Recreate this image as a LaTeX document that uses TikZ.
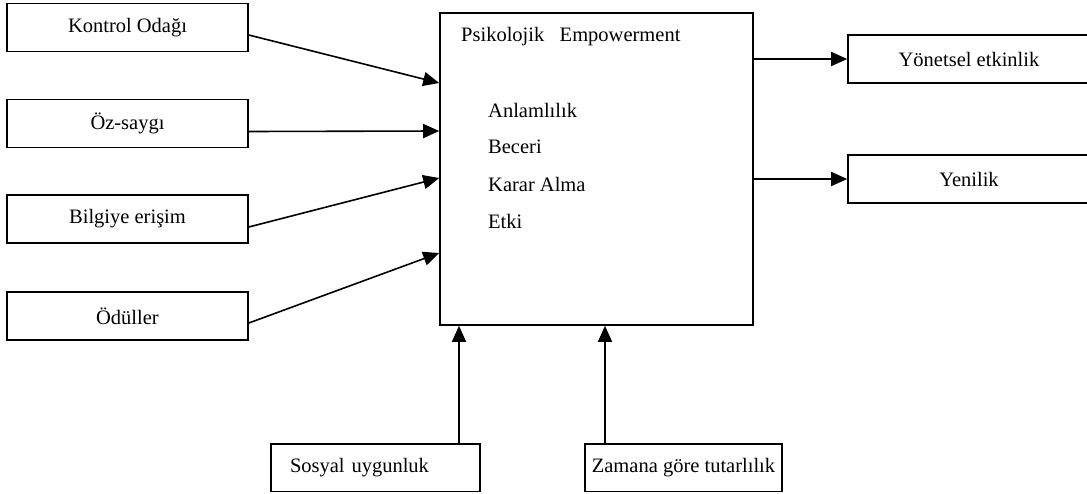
\documentclass[tikz,border=0pt]{standalone}
\usepackage{fontspec}
\setmainfont{Liberation Serif}
\usetikzlibrary{arrows.meta}
\begin{document}
\begin{tikzpicture}[x=1pt,y=-1pt,
  every node/.style={font=\fontsize{20.5}{24}\selectfont},
  box/.style={draw=black,line width=1.6pt,minimum height=48pt,inner sep=0pt,anchor=center},
  item/.style={anchor=west,inner sep=0pt},
  link/.style={line width=1.6pt,-{Triangle[length=16pt,width=14pt]}}]
\useasboundingbox (0,0) rectangle (1087,493);
% antecedents on the left
\node[box,minimum width=241pt] (kontrol) at (127.5,27.5) {Kontrol Odağı};
\node[box,minimum width=241pt] (oz) at (127.5,123.5) {Öz-saygı};
\node[box,minimum width=241pt] (bilgi) at (127.5,219) {Bilgiye erişim};
\node[box,minimum width=241pt] (odul) at (127.5,316) {Ödüller};
% central construct
\node[box,minimum width=313pt,minimum height=312pt] (main) at (596.5,169) {};
\node[item] (title) at (461,37) {Psikolojik\ \ \ Empowerment};
\node[item] (d1) at (488,110) {Anlamlılık};
\node[item] (d2) at (488,147) {Beceri};
\node[item] (d3) at (488,184) {Karar Alma};
\node[item] (d4) at (488,221) {Etki};
% outcomes on the right
\node[box,minimum width=242pt] (yon) at (969,59) {Yönetsel etkinlik};
\node[box,minimum width=242pt] (yen) at (969,179) {Yenilik};
% moderators below
\node[box,text width=171pt,inner xsep=19pt,align=left,minimum height=47.5pt] (sos) at (375.5,467.75) {Sosyal uygunluk};
\node[box,minimum width=197pt,minimum height=47.5pt] (zam) at (683.5,467.75) {Zamana göre tutarlılık};
% connectors
\draw[link] ([yshift=-7.5pt]kontrol.east) -- ([yshift=86pt]main.west);
\draw[link] ([yshift=-8pt]oz.east) -- ([yshift=38pt]main.west);
\draw[link] ([yshift=-8pt]bilgi.east) -- ([yshift=-9pt]main.west);
\draw[link] ([yshift=-7pt]odul.east) -- ([yshift=-84pt]main.west);
\draw[link] ([yshift=110pt]main.east) -- (yon.west);
\draw[link] ([yshift=-10pt]main.east) -- (yen.west);
\draw[link] ([xshift=83.5pt]sos.north) -- ([xshift=-137.5pt]main.south);
\draw[link] ([xshift=-78.5pt]zam.north) -- ([xshift=8.5pt]main.south);
\end{tikzpicture}
\end{document}
